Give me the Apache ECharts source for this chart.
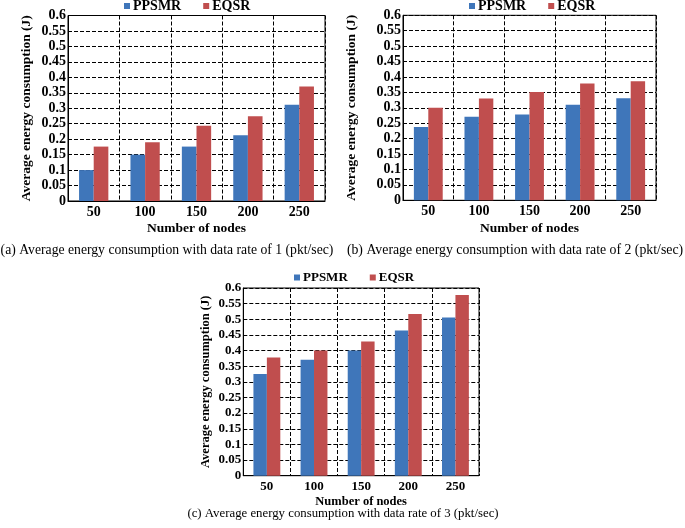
<!DOCTYPE html>
<html>
<head>
<meta charset="utf-8">
<script src="https://cdn.jsdelivr.net/npm/echarts@6/dist/echarts.min.js"></script>
<style>
html,body{margin:0;padding:0;background:#fff;}
#chart{width:685px;height:528px;}
</style>
</head>
<body>
<div id="chart"></div>
<script>
// ---- Data ----
const categories = ['50', '100', '150', '200', '250'];
const seriesNames = ['PPSMR', 'EQSR'];
const ppsmrRate1 = [0.100, 0.150, 0.176, 0.213, 0.311];
const eqsrRate1  = [0.176, 0.190, 0.243, 0.274, 0.370];
const ppsmrRate2 = [0.238, 0.271, 0.278, 0.310, 0.331];
const eqsrRate2  = [0.300, 0.330, 0.351, 0.379, 0.386];
const ppsmrRate3 = [0.325, 0.371, 0.400, 0.464, 0.506];
const eqsrRate3  = [0.378, 0.400, 0.429, 0.517, 0.578];
const yMin = 0, yMax = 0.6, yStep = 0.05;
const xAxisTitle = 'Number of nodes';
const yAxisTitle = 'Average energy consumption (J)';
const captions = [
  '(a) Average energy consumption with data rate of 1 (pkt/sec)',
  '(b) Average energy consumption with data rate of 2 (pkt/sec)',
  '(c) Average energy consumption with data rate of 3 (pkt/sec)'
];

// ---- Layout / style ----
const FONT = "'Liberation Serif', 'Times New Roman', serif";
const colors = ['#3F76BA', '#C04E4E'];
const panels = [
  { data: [ppsmrRate1, eqsrRate1], grid: {left: 68, top: 15.5, width: 257, height: 185.5},
    fs: 14, nfs: 13.5, yGap: 34, xGap: 21, legend: {left: 124, top: -1}, cap: {x: 167, y: 250, fs: 13.7} },
  { data: [ppsmrRate2, eqsrRate2], grid: {left: 403, top: 15.3, width: 253, height: 185},
    fs: 14, nfs: 13.5, yGap: 44, xGap: 21, legend: {left: 469, top: -1}, cap: {x: 515, y: 250, fs: 13.8} },
  { data: [ppsmrRate3, eqsrRate3], grid: {left: 243.3, top: 288, width: 235.7, height: 187.7},
    fs: 13, nfs: 12.5, yGap: 31, xGap: 20, legend: {left: 294, top: 271}, cap: {x: 343, y: 514, fs: 12.8} }
];

const option = {
  backgroundColor: '#fff',
  animation: false,
  color: colors,
  grid: panels.map(p => Object.assign({show: true, borderColor: '#000', borderWidth: 1, backgroundColor: 'transparent'}, p.grid)),
  legend: panels.map(p => ({
    data: seriesNames, left: p.legend.left, top: p.legend.top, orient: 'horizontal',
    itemWidth: 6, itemHeight: 6, itemGap: 22, icon: 'rect', padding: 0,
    textStyle: {fontFamily: FONT, fontWeight: 'bold', fontSize: p.fs, color: '#000', padding: [0,0,0,-2]}
  })),
  xAxis: panels.map((p, i) => ({
    type: 'category', gridIndex: i, data: categories,
    axisLine: {lineStyle: {color: '#000', width: 1}},
    axisTick: {show: false},
    axisLabel: {fontFamily: FONT, fontWeight: 'bold', fontSize: p.fs, color: '#000', margin: 4},
    splitLine: {show: true, lineStyle: {color: '#000', width: 1, type: [4, 2]}},
    name: xAxisTitle, nameLocation: 'middle', nameGap: p.xGap,
    nameTextStyle: {fontFamily: FONT, fontWeight: 'bold', fontSize: p.nfs, color: '#000'}
  })),
  yAxis: panels.map((p, i) => ({
    type: 'value', gridIndex: i, min: yMin, max: yMax, interval: yStep,
    axisLine: {show: true, lineStyle: {color: '#000', width: 1}},
    axisTick: {show: false},
    axisLabel: {fontFamily: FONT, fontWeight: 'bold', fontSize: p.fs, color: '#000', margin: 2},
    splitLine: {show: true, lineStyle: {color: '#000', width: 1, type: [4, 2]}},
    name: yAxisTitle, nameLocation: 'middle', nameGap: p.yGap,
    nameTextStyle: {fontFamily: FONT, fontWeight: 'bold', fontSize: p.nfs, color: '#000'}
  })),
  series: [],
  graphic: panels.map((p, i) => ({
    type: 'text', x: p.cap.x, y: p.cap.y,
    style: {text: captions[i], font: p.cap.fs + 'px ' + FONT, fill: '#000',
      align: 'center', verticalAlign: 'middle', textAlign: 'center', textVerticalAlign: 'middle'}
  }))
};

panels.forEach((p, i) => {
  seriesNames.forEach((name, k) => {
    option.series.push({
      type: 'bar', name: name, xAxisIndex: i, yAxisIndex: i,
      data: p.data[k], barGap: '0%', barCategoryGap: '43%',
      itemStyle: {color: colors[k]}
    });
  });
});

const chart = echarts.init(document.getElementById('chart'), null, {renderer: 'canvas'});
chart.setOption(option);
</script>
</body>
</html>
